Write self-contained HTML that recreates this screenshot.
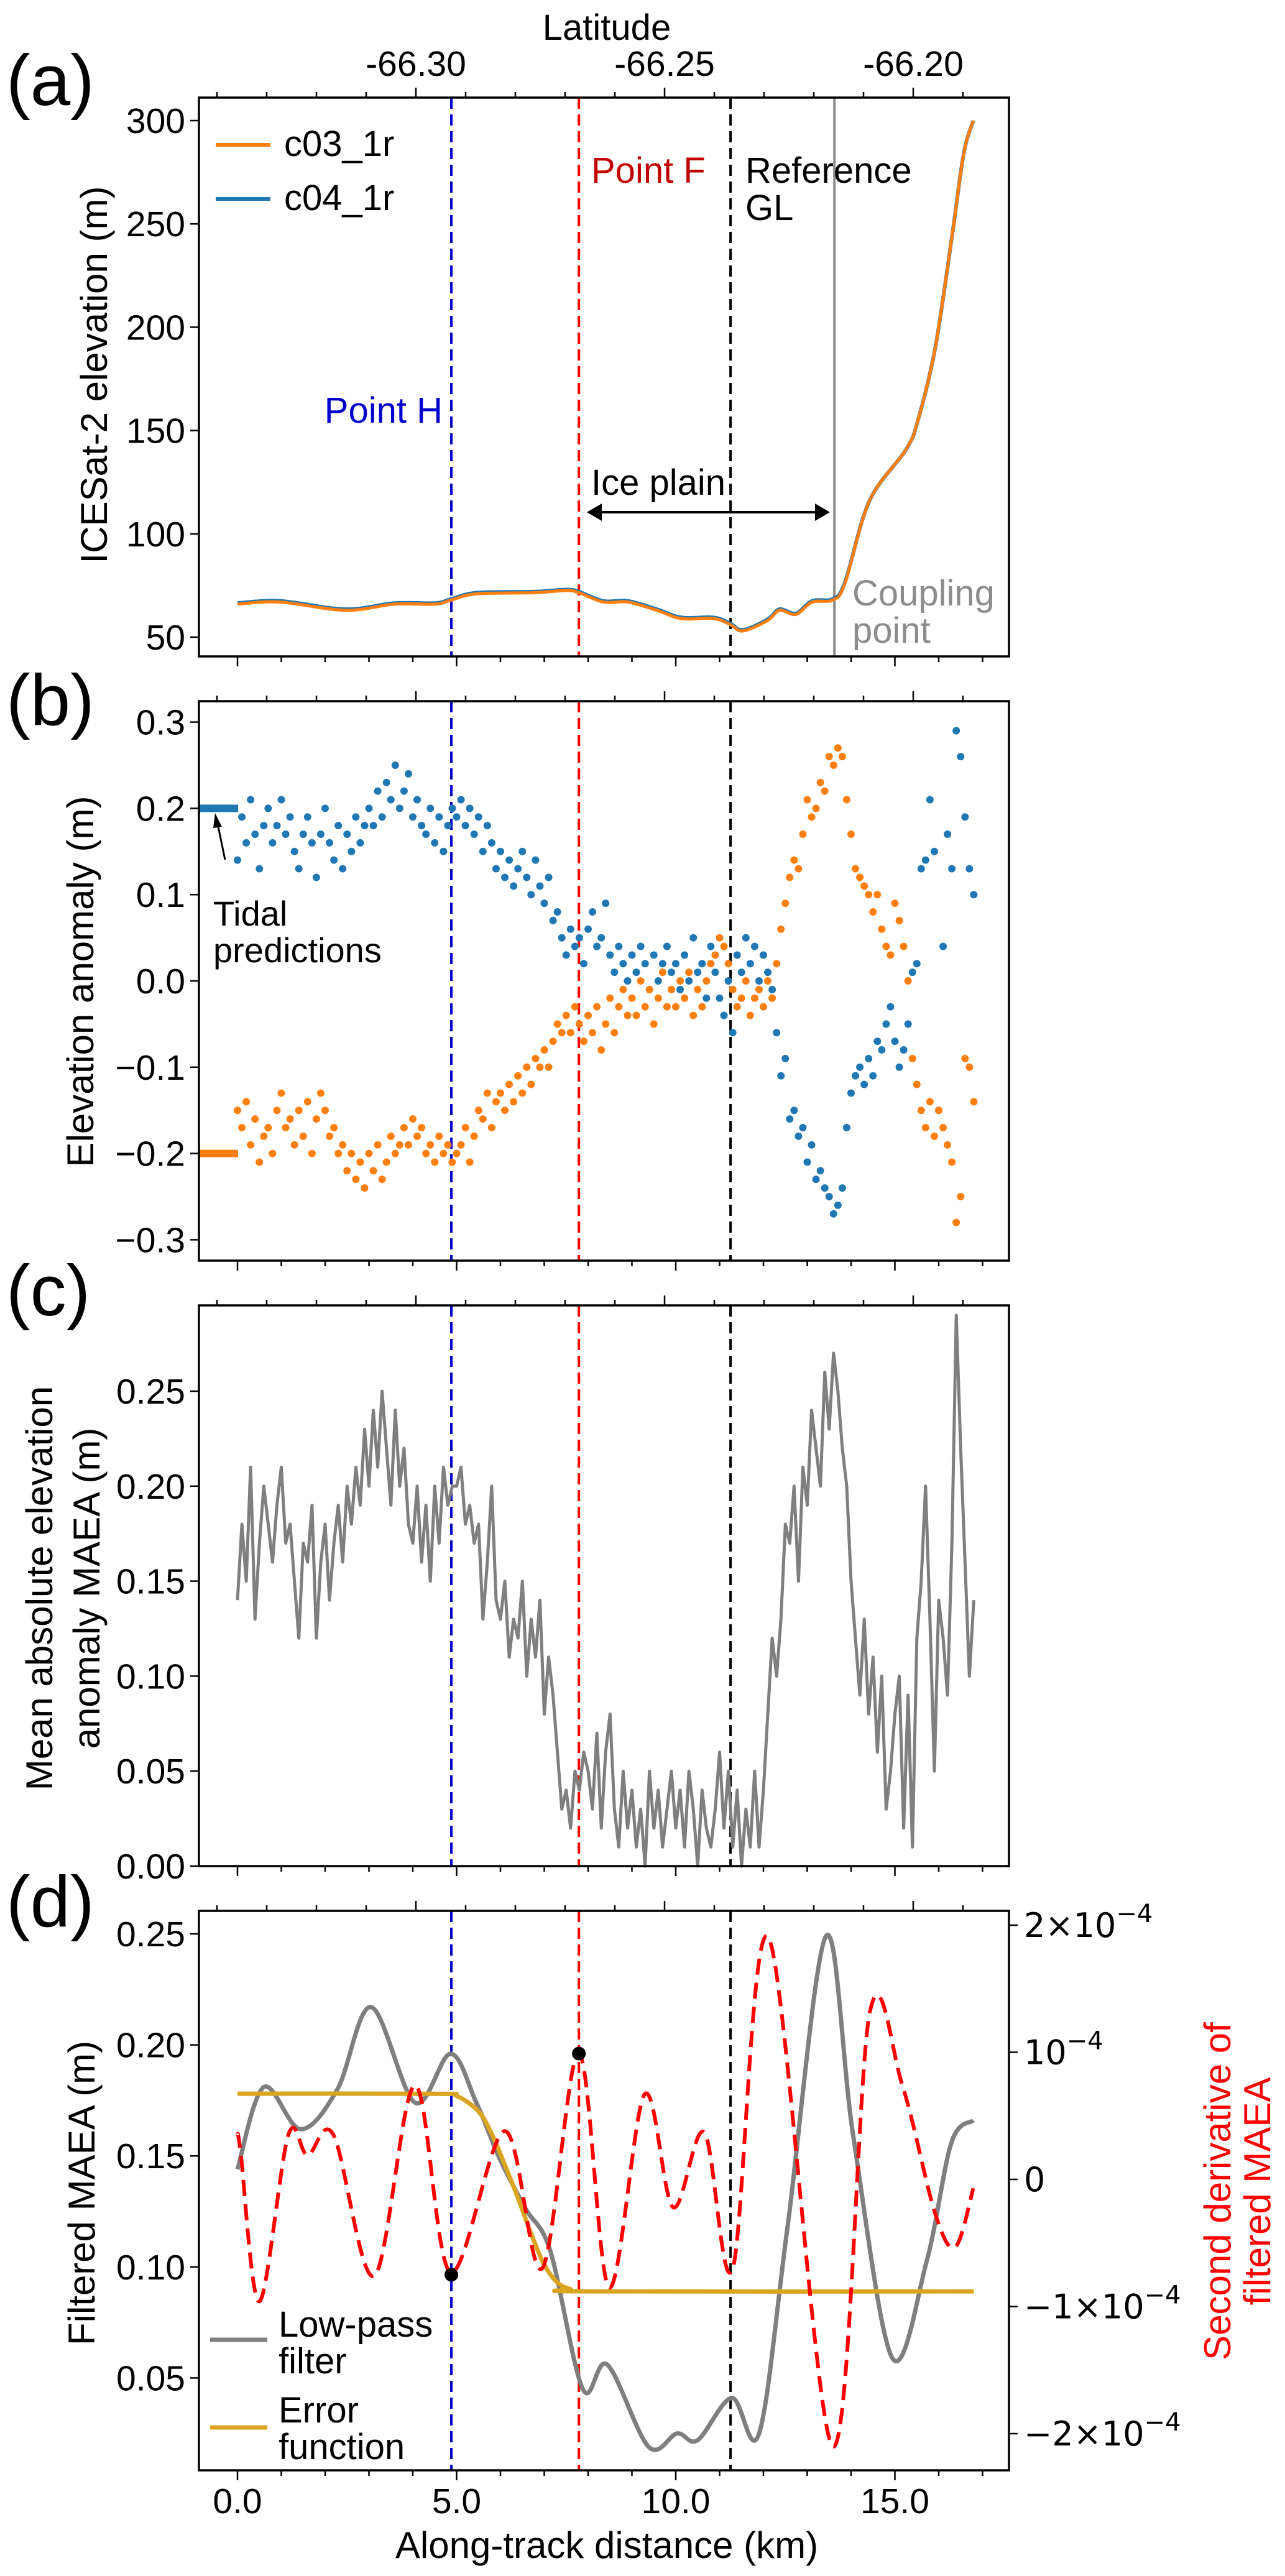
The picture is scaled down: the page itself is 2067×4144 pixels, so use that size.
<!DOCTYPE html>
<html><head><meta charset="utf-8"><style>
html,body{margin:0;padding:0;background:#fff}
svg{display:block}
text{font-family:"Liberation Sans",Arial,sans-serif;fill:#000}
</style></head><body>
<svg id="fig" xmlns="http://www.w3.org/2000/svg" width="2067" height="4144" viewBox="0 0 2067 4144">
<rect width="2067" height="4144" fill="#fff"/>
<g id="layer"></g>
</svg>
<script>
// ---------- data ----------
const kmGrid = []; // along-track positions for scatter / MAEA (0..16.8 km step 0.1)
for (let i = 0; i <= 168; i++) kmGrid.push(+(i / 10).toFixed(1));

const elevKm = [0,0.97,2.47,3.59,4.52,4.88,5.46,6.76,7.51,7.79,8.35,8.91,9.57,10.13,10.87,11.25,11.53,12.09,12.37,12.74,13.11,13.58,13.86,14.42,15.26,15.54,15.92,16.29,16.57,16.79];
const elevC03 = [66,67,63,66,66,68,71,71.5,72.6,71.5,67,67,63,59,59,56,53,58,63,61,67,68,76,116,141,156,190,242,284,300];
const elevC04 = [66.5,67.5,63.5,66.5,66.5,68.5,71.5,72,73,72,67.5,67.5,63.5,59.5,59.5,56.5,53.5,58.5,63.5,61.5,67.5,68.5,76.5,116,141,156,190,242,284,300];

const anomC04 = [
0.14,0.19,0.16,0.21,0.17,0.13,0.18,0.20,0.16,0.18,
0.21,0.17,0.19,0.15,0.13,0.17,0.19,0.16,0.12,0.17,
0.20,0.16,0.14,0.18,0.13,0.17,0.15,0.19,0.16,0.18,
0.20,0.18,0.22,0.19,0.23,0.21,0.25,0.20,0.22,0.24,
0.19,0.21,0.18,0.17,0.20,0.16,0.19,0.15,0.18,0.20,
0.19,0.21,0.18,0.20,0.17,0.19,0.15,0.18,0.16,0.13,
0.15,0.12,0.14,0.11,0.13,0.15,0.12,0.10,0.14,0.11,
0.09,0.12,0.07,0.08,0.05,0.03,0.06,0.04,0.05,0.02,
0.06,0.08,0.04,0.05,0.09,0.03,0.01,0.04,0.02,0.00,
0.03,0.01,0.04,0.02,-0.01,0.03,0.00,0.02,0.04,0.01,
0.02,-0.01,0.03,0.00,0.05,0.01,0.02,-0.02,0.04,0.01,
-0.02,-0.04,0.00,-0.06,0.03,0.01,0.05,0.02,0.04,0.00,
0.03,0.01,-0.01,-0.06,-0.11,-0.09,-0.16,-0.15,-0.18,-0.17,
-0.21,-0.19,-0.23,-0.22,-0.24,-0.25,-0.27,-0.26,-0.24,-0.17,
-0.13,-0.11,-0.10,-0.12,-0.09,-0.11,-0.07,-0.08,-0.05,-0.03,
-0.07,-0.10,-0.08,-0.05,0.01,0.02,0.13,0.14,0.21,0.15,
-0.15,0.04,0.17,0.13,0.29,0.26,0.19,0.13,0.10];
const anomC03 = [
-0.15,-0.17,-0.14,-0.19,-0.16,-0.21,-0.18,-0.17,-0.20,-0.15,
-0.13,-0.17,-0.16,-0.19,-0.15,-0.18,-0.14,-0.20,-0.16,-0.13,
-0.15,-0.18,-0.17,-0.20,-0.19,-0.22,-0.20,-0.23,-0.21,-0.24,
-0.20,-0.22,-0.19,-0.23,-0.21,-0.18,-0.20,-0.19,-0.17,-0.19,
-0.16,-0.18,-0.17,-0.20,-0.19,-0.21,-0.18,-0.20,-0.19,-0.21,
-0.20,-0.19,-0.17,-0.21,-0.18,-0.15,-0.16,-0.13,-0.17,-0.14,
-0.13,-0.15,-0.12,-0.14,-0.11,-0.13,-0.10,-0.12,-0.09,-0.10,
-0.08,-0.10,-0.07,-0.05,-0.06,-0.04,-0.06,-0.03,-0.05,-0.07,
-0.04,-0.06,-0.03,-0.08,-0.05,-0.02,-0.06,-0.03,-0.01,-0.04,
-0.02,-0.04,0.00,-0.03,-0.01,-0.05,-0.02,0.01,-0.03,-0.01,
-0.03,0.00,-0.02,0.01,-0.04,-0.01,-0.03,0.00,0.02,0.03,
0.05,0.04,0.02,-0.01,-0.03,-0.02,0.00,-0.04,-0.02,-0.01,
-0.03,0.00,-0.02,0.02,0.06,0.09,0.12,0.14,0.13,0.17,
0.21,0.19,0.20,0.23,0.22,0.26,0.25,0.27,0.26,0.21,
0.17,0.13,0.12,0.11,0.10,0.08,0.10,0.06,0.04,0.03,
0.09,0.07,0.04,0.00,-0.09,-0.12,-0.15,-0.17,-0.14,-0.18,
-0.15,-0.17,-0.19,-0.21,-0.28,-0.25,-0.09,-0.10,-0.14];
const tidalC04 = 0.2, tidalC03 = -0.2;

const maea = [
0.14,0.18,0.15,0.21,0.13,0.17,0.20,0.18,0.16,0.19,
0.21,0.17,0.18,0.15,0.12,0.17,0.16,0.19,0.12,0.16,
0.18,0.14,0.17,0.19,0.16,0.20,0.18,0.21,0.19,0.23,
0.20,0.24,0.21,0.25,0.22,0.19,0.24,0.20,0.22,0.18,
0.17,0.20,0.16,0.19,0.15,0.20,0.17,0.21,0.19,0.20,
0.20,0.21,0.18,0.19,0.17,0.18,0.13,0.16,0.20,0.14,
0.13,0.15,0.11,0.13,0.12,0.15,0.10,0.13,0.11,0.14,
0.08,0.11,0.09,0.06,0.03,0.04,0.02,0.05,0.04,0.06,
0.05,0.03,0.07,0.02,0.06,0.08,0.03,0.01,0.05,0.02,
0.04,0.01,0.03,0.00,0.05,0.02,0.04,0.01,0.03,0.05,
0.02,0.04,0.01,0.05,0.03,0.00,0.04,0.02,0.01,0.03,
0.06,0.02,0.05,0.01,0.04,0.00,0.03,0.01,0.05,0.01,
0.04,0.08,0.12,0.10,0.13,0.18,0.17,0.20,0.15,0.21,
0.19,0.24,0.22,0.20,0.26,0.23,0.27,0.25,0.22,0.20,
0.15,0.12,0.09,0.13,0.08,0.11,0.06,0.10,0.03,0.05,
0.08,0.10,0.02,0.09,0.01,0.12,0.15,0.20,0.13,0.05,
0.14,0.12,0.09,0.17,0.29,0.22,0.16,0.10,0.14];

const lpKm = [0,0.6,1.44,2.28,3.05,4.05,4.86,5.45,6.0,6.58,7.14,7.88,8.44,9.38,10.03,10.5,11.28,11.9,12.55,13.43,14.05,14.94,15.73,16.29,16.79];
const lpVal = [0.144,0.181,0.162,0.18,0.217,0.174,0.196,0.174,0.148,0.126,0.107,0.045,0.056,0.019,0.025,0.022,0.041,0.025,0.118,0.249,0.159,0.059,0.103,0.156,0.166];
const d2Km = [0,0.07,0.5,1.16,1.6,2.19,3.12,4.05,4.86,6.1,6.95,7.79,8.48,9.29,9.94,10.65,11.3,12.12,13.58,14.42,15.17,15.92,16.38,16.79];
const d2Val = [0.35,0.22,-0.96,0.35,0.19,0.35,-0.76,0.74,-0.73,0.38,-0.7,0.99,-0.85,0.67,-0.22,0.37,-0.7,1.9,-2.1,1.3,0.74,-0.27,-0.53,-0.07]; // ×1e-4
const erfKm = [0,4.5,5.0,5.5,5.8,6.1,6.4,6.7,7.0,7.3,7.6,8.0,16.8];
const erfVal = [0.178,0.178,0.177,0.170,0.160,0.146,0.131,0.115,0.101,0.093,0.090,0.089,0.089];
const markKm = [4.88,7.79];
const markVal = [-0.75,0.99];

const lineH = 4.88, lineF = 7.79, lineGL = 11.25, lineCoupling = 13.62;
const latTicks = ["-66.30","-66.25","-66.20"];
const xTickLabels = ["0.0","5.0","10.0","15.0"];
const aTicks = [50,100,150,200,250,300];
const bTicks = [-0.3,-0.2,-0.1,0.0,0.1,0.2,0.3];
const cTicks = [0.00,0.05,0.10,0.15,0.20,0.25];
const dTicks = [0.05,0.10,0.15,0.20,0.25];
const dRightTicks = [2,1,0,-1,-2];

// ---------- geometry ----------
const L = 320, R = 1623;
const X = km => 382 + km * 70.5;
const P = {
  a:{top:157,bot:1056,Y:v=>1025-(v-50)*3.324},
  b:{top:1128,bot:2028,Y:v=>1578-v*1388},
  c:{top:2100,bot:3002,Y:v=>3002-v*3056},
  d:{top:3074,bot:3974,Y:v=>3111+(0.25-v)*3572,Y2:v=>3506-v*204.5}
};
const NS = "http://www.w3.org/2000/svg";
const layer = document.getElementById('layer');
function el(tag, attrs, parent) {
  const e = document.createElementNS(NS, tag);
  for (const k in attrs) e.setAttribute(k, attrs[k]);
  (parent || layer).appendChild(e);
  return e;
}
function txt(s, x, y, size, anchor, parent, fill) {
  const t = el('text', {x:x, y:y, 'font-size':size, 'text-anchor':anchor||'start'}, parent);
  if (fill) t.setAttribute('style', 'fill:' + fill);
  t.textContent = s;
  return t;
}
function smooth(xs, ys) {
  let d = 'M' + xs[0] + ',' + ys[0];
  for (let i = 0; i < xs.length - 1; i++) {
    const x0 = xs[Math.max(i-1,0)], y0 = ys[Math.max(i-1,0)];
    const x1 = xs[i], y1 = ys[i], x2 = xs[i+1], y2 = ys[i+1];
    const x3 = xs[Math.min(i+2,xs.length-1)], y3 = ys[Math.min(i+2,xs.length-1)];
    const c1x = x1 + (x2-x0)/6, c1y = y1 + (y2-y0)/6;
    const c2x = x2 - (x3-x1)/6, c2y = y2 - (y3-y1)/6;
    d += ' C' + c1x.toFixed(1) + ',' + c1y.toFixed(1) + ' ' + c2x.toFixed(1) + ',' + c2y.toFixed(1) + ' ' + x2.toFixed(1) + ',' + y2.toFixed(1);
  }
  return d;
}
function poly(xs, ys) {
  return xs.map((x,i)=>(i?'L':'M')+x.toFixed(1)+','+ys[i].toFixed(1)).join(' ');
}

function frame(key, name) {
  const p = P[key];
  const g = el('g', {});
  
  
  for (let x = 348; x <= R; x += 80) {
    const major = (x === 668 || x === 1068 || x === 1468);
    el('line', {x1:x+1, x2:x+1, y1:p.top, y2:p.top-(major?16:9), stroke:'#000','stroke-width':2.5}, g);
  }
  for (let k = 0; k <= 17; k++) {
    const major = k % 5 === 0;
    el('line', {x1:X(k), x2:X(k), y1:p.bot, y2:p.bot+(major?16:9), stroke:'#000','stroke-width':2.5}, g);
  }
  return g;
}
function border(key, g) {
  const p = P[key];
  el('rect', {x:L, y:p.top, width:R-L, height:p.bot-p.top, fill:'none', stroke:'#000', 'stroke-width':3.5}, g);
}
function yTicks(key, vals, fmt, g, Yf) {
  const p = P[key];
  vals.forEach(v => {
    const y = (Yf||p.Y)(v);
    el('line', {x1:L, x2:L-14, y1:y, y2:y, stroke:'#000','stroke-width':2.5}, g);
    const t = txt(fmt(v), L-22, y+20, 57, 'end', g);
    
    
  });
}
function vlines(key, g) {
  const p = P[key];
  [[lineH,'#0000cc'],[lineF,'#ff0000'],[lineGL,'#000000']].forEach(([k,c]) => {
    const l = el('line', {x1:X(k), x2:X(k), y1:p.top, y2:p.bot, stroke:c, 'stroke-width':4, 'stroke-dasharray':'18,9'}, g);
    
    
  });
}
const fmtMinus = s => s.replace('-', '\u2212');

// ---------- panel a ----------
(function(){
  const p = P.a, g = frame('a','panel-a');
  const lat = el('text', {x:976, y:64, 'font-size':58, 'text-anchor':'middle'}, g);
  lat.textContent = 'Latitude';
  
  
  latTicks.forEach((s,i) => {
    const t = txt(s, 669 + i*400, 122, 57, 'middle', g);
    
    
  });
  yTicks('a', aTicks, v=>String(v), g);
  vlines('a', g);
  const cp = el('line', {x1:X(lineCoupling), x2:X(lineCoupling), y1:p.top, y2:p.bot, stroke:'#8c8c8c','stroke-width':4}, g);
  
  
  const l4 = el('path', {d:smooth(elevKm.map(X), elevC04.map(p.Y)), fill:'none', stroke:'#1f77b4','stroke-width':6}, g);
  
  
  const l3 = el('path', {d:smooth(elevKm.map(X), elevC03.map(p.Y)), fill:'none', stroke:'#ff7f0e','stroke-width':5}, g);
  
  
  const lg = el('g', {}, g);
  
  
  el('line', {x1:347, x2:435, y1:233, y2:233, stroke:'#ff7f0e','stroke-width':6}, lg);
  txt('c03_1r', 457, 251, 58, 'start', lg);
  el('line', {x1:347, x2:435, y1:320, y2:320, stroke:'#1f77b4','stroke-width':6}, lg);
  txt('c04_1r', 457, 338, 58, 'start', lg);
  const a1 = txt('Point F', 951, 294, 58, 'start', g, '#c00000');  
  const a2 = txt('Reference', 1199, 294, 58, 'start', g);  
  txt('GL', 1199, 354, 58, 'start', g);
  const a3 = txt('Point H', 712, 680, 58, 'end', g, '#0000cc');  
  const a4 = txt('Ice plain', 951, 796, 58, 'start', g);  
  const ar = el('g', {}, g);
  
  
  el('line', {x1:960, x2:1318, y1:824, y2:824, stroke:'#000','stroke-width':4}, ar);
  el('path', {d:'M944,824 L968,810 L968,838 Z', fill:'#000'}, ar);
  el('path', {d:'M1335,824 L1311,810 L1311,838 Z', fill:'#000'}, ar);
  const a5 = txt('Coupling', 1371, 974, 58, 'start', g, '#8c8c8c');  
  txt('point', 1371, 1034, 58, 'start', g, '#8c8c8c');
  const yl = el('text', {x:0, y:0, 'font-size':60, 'text-anchor':'middle', transform:'translate(172,603) rotate(-90)'}, g);
  yl.textContent = 'ICESat-2 elevation (m)';
  
  
  const pl = txt('(a)', 10, 169, 116, 'start', g);  
  border('a', g);
})();

// ---------- panel b ----------
(function(){
  const p = P.b, g = frame('b','panel-b');
  yTicks('b', bTicks, v=>fmtMinus(v.toFixed(1)), g);
  vlines('b', g);
  kmGrid.forEach((k,i) => {
    const c = el('circle', {cx:X(k), cy:p.Y(anomC04[i]), r:6, fill:'#1f77b4'}, g);
    
    
  });
  kmGrid.forEach((k,i) => {
    const c = el('circle', {cx:X(k), cy:p.Y(anomC03[i]), r:6, fill:'#ff7f0e'}, g);
    
    
  });
  const t1 = el('line', {x1:L, x2:383, y1:p.Y(tidalC04), y2:p.Y(tidalC04), stroke:'#1f77b4','stroke-width':12}, g);
  
  
  const t2 = el('line', {x1:L, x2:383, y1:p.Y(tidalC03), y2:p.Y(tidalC03), stroke:'#ff7f0e','stroke-width':12}, g);
  
  
  const ar = el('g', {}, g);
  
  
  el('line', {x1:362, y1:1383, x2:350, y2:1325, stroke:'#000','stroke-width':3}, ar);
  el('path', {d:'M346,1308 L357,1330 L343,1332 Z', fill:'#000'}, ar);
  const tl = txt('Tidal', 343, 1489, 56, 'start', g);  
  txt('predictions', 343, 1548, 56, 'start', g);
  const yl = el('text', {x:0, y:0, 'font-size':60, 'text-anchor':'middle', transform:'translate(150,1579) rotate(-90)'}, g);
  yl.textContent = 'Elevation anomaly (m)';
  
  
  const pl = txt('(b)', 10, 1166, 116, 'start', g);  
  border('b', g);
})();

// ---------- panel c ----------
(function(){
  const p = P.c, g = frame('c','panel-c');
  yTicks('c', cTicks, v=>v.toFixed(2), g);
  vlines('c', g);
  const ln = el('path', {d:poly(kmGrid.map(X), maea.map(p.Y)), fill:'none', stroke:'#7f7f7f','stroke-width':5,'stroke-linejoin':'round'}, g);
  
  
  const yl = el('text', {x:0, y:0, 'font-size':60, 'text-anchor':'middle', transform:'translate(84,2555) rotate(-90)'}, g);
  yl.textContent = 'Mean absolute elevation';
  
  
  const yl2 = el('text', {x:0, y:0, 'font-size':60, 'text-anchor':'middle', transform:'translate(160,2555) rotate(-90)'}, g);
  yl2.textContent = 'anomaly MAEA (m)';
  
  
  const pl = txt('(c)', 10, 2116, 116, 'start', g);  
  border('c', g);
})();

// ---------- panel d ----------
(function(){
  const p = P.d, g = frame('d','panel-d');
  yTicks('d', dTicks, v=>v.toFixed(2), g);
  dRightTicks.forEach(v => {
    const y = p.Y2(v);
    el('line', {x1:R, x2:R+14, y1:y, y2:y, stroke:'#000','stroke-width':2.5}, g);
    const t = el('text', {x:1647, y:y+19, 'font-size':54, style:'font-family:"DejaVu Sans",sans-serif'}, g);
    
    
    if (v === 0) { t.textContent = '0'; return; }
    let base = v === 1 ? '10' : (v < 0 ? '\u2212' : '') + Math.abs(v) + '\u00d710';
    const b = document.createElementNS(NS,'tspan'); b.textContent = base; t.appendChild(b);
    const s = document.createElementNS(NS,'tspan'); s.textContent = '\u22124';
    s.setAttribute('dy','-24'); s.setAttribute('font-size','40'); t.appendChild(s);
  });
  vlines('d', g);
  const lp = el('path', {d:smooth(lpKm.map(X), lpVal.map(p.Y)), fill:'none', stroke:'#7f7f7f','stroke-width':7}, g);
  
  
  const ef = el('path', {d:smooth(erfKm.map(X), erfVal.map(p.Y)), fill:'none', stroke:'#daa520','stroke-width':7}, g);
  
  
  const d2 = el('path', {d:smooth(d2Km.map(X), d2Val.map(p.Y2)), fill:'none', stroke:'#ff0000','stroke-width':6,'stroke-dasharray':'26,13'}, g);
  
  
  markKm.forEach((k,i) => {
    const c = el('circle', {cx:X(k), cy:p.Y2(markVal[i]), r:11, fill:'#000'}, g);
    
    
  });
  const lg = el('g', {}, g);
  
  
  el('line', {x1:338, x2:430, y1:3764, y2:3764, stroke:'#7f7f7f','stroke-width':7}, lg);
  txt('Low-pass', 448, 3759, 58, 'start', lg);
  txt('filter', 448, 3818, 58, 'start', lg);
  el('line', {x1:338, x2:430, y1:3905, y2:3905, stroke:'#daa520','stroke-width':7}, lg);
  txt('Error', 448, 3897, 58, 'start', lg);
  txt('function', 448, 3956, 58, 'start', lg);
  xTickLabels.forEach((s,i) => {
    const t = txt(s, X(i*5), 4043, 57, 'middle', g);
    
    
  });
  const xl = txt('Along-track distance (km)', 976, 4115, 60, 'middle', g);
  
  
  const yl = el('text', {x:0, y:0, 'font-size':60, 'text-anchor':'middle', transform:'translate(152,3528) rotate(-90)'}, g);
  yl.textContent = 'Filtered MAEA (m)';
  
  
  const yr = el('text', {x:0, y:0, 'font-size':60, 'text-anchor':'middle', style:'fill:#ff0000', transform:'translate(1979,3525) rotate(-90)'}, g);
  yr.textContent = 'Second derivative of';
  
  
  const yr2 = el('text', {x:0, y:0, 'font-size':60, 'text-anchor':'middle', style:'fill:#ff0000', transform:'translate(2043,3525) rotate(-90)'}, g);
  yr2.textContent = 'filtered MAEA';
  
  
  const pl = txt('(d)', 10, 3099, 116, 'start', g);  
  border('d', g);
})();
</script>
</body></html>
